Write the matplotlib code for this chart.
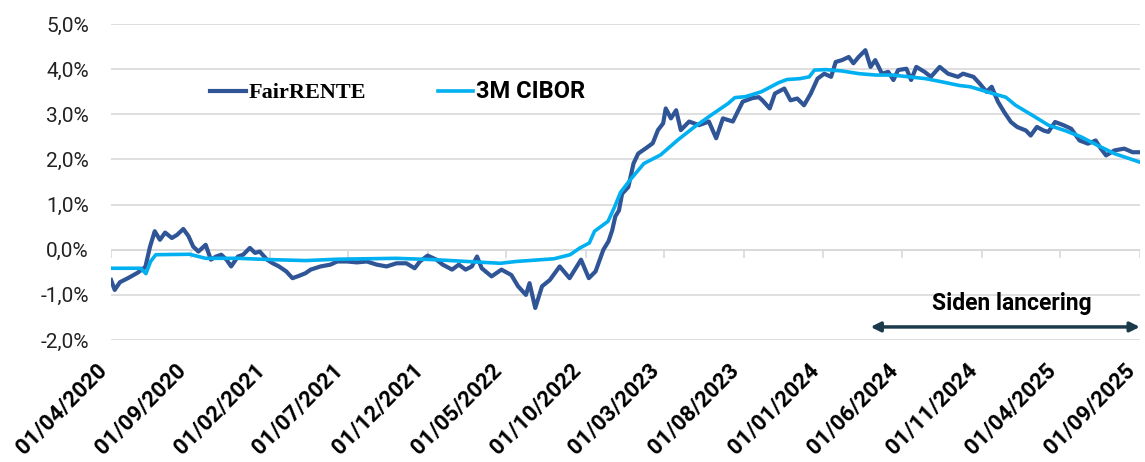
import pandas as pd
import numpy as np
import matplotlib.pyplot as plt
import matplotlib.dates as mdates
from matplotlib.ticker import FuncFormatter, FixedLocator

# FairRENTE (%)
fair_dates = [
    "2020-04-01", "2020-04-08", "2020-04-18", "2020-05-05", "2020-05-22", "2020-06-06",
    "2020-06-15", "2020-06-24", "2020-07-04", "2020-07-14", "2020-07-27", "2020-08-06",
    "2020-08-18", "2020-08-28", "2020-09-06", "2020-09-16", "2020-09-30", "2020-10-10",
    "2020-10-20", "2020-10-30", "2020-11-09", "2020-11-18", "2020-12-01", "2020-12-11",
    "2020-12-24", "2021-01-03", "2021-01-12", "2021-01-26", "2021-02-06", "2021-02-18",
    "2021-03-04", "2021-03-16", "2021-03-28", "2021-04-10", "2021-04-20", "2021-05-09",
    "2021-05-28", "2021-06-10", "2021-06-29", "2021-07-18", "2021-08-06", "2021-08-25",
    "2021-09-13", "2021-10-02", "2021-10-21", "2021-11-06", "2021-11-16", "2021-12-01",
    "2021-12-18", "2021-12-30", "2022-01-17", "2022-01-30", "2022-02-12", "2022-02-24",
    "2022-03-06", "2022-03-15", "2022-04-03", "2022-04-22", "2022-05-11", "2022-05-24",
    "2022-06-08", "2022-06-15", "2022-06-26", "2022-07-09", "2022-07-24", "2022-08-12",
    "2022-08-31", "2022-09-22", "2022-10-07", "2022-10-20", "2022-11-04", "2022-11-14",
    "2022-11-21", "2022-11-27", "2022-12-04", "2022-12-10", "2022-12-22", "2023-01-01",
    "2023-01-10", "2023-01-25", "2023-02-07", "2023-02-17", "2023-02-27", "2023-03-04",
    "2023-03-14", "2023-03-24", "2023-04-02", "2023-04-18", "2023-05-07", "2023-05-26",
    "2023-06-09", "2023-06-22", "2023-07-11", "2023-07-30", "2023-08-18", "2023-08-30",
    "2023-09-06", "2023-09-20", "2023-09-30", "2023-10-18", "2023-10-30", "2023-11-12",
    "2023-11-25", "2023-12-08", "2023-12-21", "2024-01-03", "2024-01-16", "2024-01-25",
    "2024-02-06", "2024-02-19", "2024-02-28", "2024-03-09", "2024-03-22", "2024-04-01",
    "2024-04-10", "2024-04-23", "2024-05-05", "2024-05-15", "2024-05-24", "2024-06-09",
    "2024-06-18", "2024-06-28", "2024-07-14", "2024-07-26", "2024-08-12", "2024-08-28",
    "2024-09-16", "2024-09-26", "2024-10-16", "2024-10-28", "2024-11-10", "2024-11-20",
    "2024-12-02", "2024-12-14", "2024-12-27", "2025-01-08", "2025-01-25", "2025-02-03",
    "2025-02-15", "2025-02-28", "2025-03-09", "2025-03-22", "2025-04-07", "2025-04-22",
    "2025-05-08", "2025-05-24", "2025-06-08", "2025-06-18", "2025-06-28", "2025-07-14",
    "2025-08-02", "2025-08-18", "2025-09-01",
]
fair_values = [
    -0.67, -0.89, -0.72, -0.62, -0.51, -0.38,
    0.07, 0.41, 0.22, 0.38, 0.26, 0.33,
    0.46, 0.30, 0.07, -0.04, 0.11, -0.22,
    -0.15, -0.11, -0.22, -0.37, -0.15, -0.11,
    0.04, -0.07, -0.04, -0.22, -0.30, -0.37,
    -0.48, -0.63, -0.58, -0.52, -0.44, -0.37,
    -0.33, -0.26, -0.26, -0.28, -0.26, -0.33,
    -0.37, -0.30, -0.30, -0.41, -0.26, -0.13,
    -0.22, -0.33, -0.44, -0.33, -0.44, -0.37,
    -0.15, -0.41, -0.59, -0.44, -0.56, -0.81,
    -1.00, -0.74, -1.29, -0.81, -0.67, -0.37,
    -0.63, -0.22, -0.63, -0.48, 0.00, 0.19,
    0.43, 0.74, 0.87, 1.24, 1.39, 1.91,
    2.13, 2.25, 2.36, 2.65, 2.80, 3.13,
    2.91, 3.09, 2.65, 2.84, 2.76, 2.84,
    2.47, 2.91, 2.84, 3.28, 3.36, 3.38,
    3.31, 3.13, 3.46, 3.57, 3.31, 3.35,
    3.20, 3.46, 3.79, 3.90, 3.83, 4.16,
    4.20, 4.27, 4.13, 4.27, 4.42, 4.05,
    4.20, 3.90, 3.94, 3.76, 3.98, 4.01,
    3.76, 4.05, 3.94, 3.83, 4.05, 3.90,
    3.83, 3.90, 3.83, 3.68, 3.50, 3.61,
    3.28, 3.05, 2.83, 2.72, 2.64, 2.53,
    2.72, 2.64, 2.61, 2.83, 2.76, 2.68,
    2.42, 2.35, 2.42, 2.24, 2.09, 2.20,
    2.24, 2.16, 2.16,
]

# 3M CIBOR (%)
cibor_dates = [
    "2020-04-01", "2020-05-28", "2020-06-07", "2020-06-16", "2020-06-26", "2020-08-30",
    "2020-09-30", "2020-12-01", "2021-02-06", "2021-04-10", "2021-06-10", "2021-10-01",
    "2021-12-15", "2022-02-15", "2022-04-20", "2022-05-20", "2022-08-01", "2022-09-01",
    "2022-09-20", "2022-10-08", "2022-10-18", "2022-11-13", "2022-11-26", "2022-12-07",
    "2022-12-25", "2023-01-21", "2023-02-22", "2023-03-27", "2023-04-28", "2023-05-30",
    "2023-07-02", "2023-07-15", "2023-08-04", "2023-09-04", "2023-10-07", "2023-10-23",
    "2023-11-17", "2023-12-05", "2023-12-15", "2024-01-06", "2024-02-06", "2024-03-10",
    "2024-04-11", "2024-05-12", "2024-06-14", "2024-07-16", "2024-08-16", "2024-09-18",
    "2024-10-10", "2024-11-02", "2024-11-22", "2024-12-17", "2025-01-05", "2025-02-06",
    "2025-03-09", "2025-04-10", "2025-05-11", "2025-06-12", "2025-07-14", "2025-08-14",
    "2025-09-01",
]
cibor_values = [
    -0.41, -0.41, -0.53, -0.26, -0.11, -0.10,
    -0.19, -0.19, -0.22, -0.24, -0.21, -0.19,
    -0.22, -0.26, -0.30, -0.26, -0.20, -0.11,
    0.04, 0.15, 0.41, 0.63, 0.96, 1.27,
    1.54, 1.91, 2.10, 2.43, 2.72, 2.98,
    3.24, 3.37, 3.39, 3.50, 3.70, 3.77,
    3.79, 3.83, 3.98, 3.99, 3.96, 3.90,
    3.87, 3.87, 3.83, 3.79, 3.72, 3.64,
    3.61, 3.53, 3.46, 3.38, 3.20, 2.98,
    2.76, 2.64, 2.50, 2.31, 2.13, 2.01,
    1.94,
]

tick_dates = ["2020-04-01", "2020-09-01", "2021-02-01", "2021-07-01", "2021-12-01",
              "2022-05-01", "2022-10-01", "2023-03-01", "2023-08-01", "2024-01-01",
              "2024-06-01", "2024-11-01", "2025-04-01", "2025-09-01"]
y_ticks = [-2, -1, 0, 1, 2, 3, 4, 5]
launch_start = "2024-04-01"
launch_end = "2025-09-01"

fair_x = pd.to_datetime(fair_dates)
cibor_x = pd.to_datetime(cibor_dates)
ticks = mdates.date2num(pd.to_datetime(tick_dates))

fig = plt.figure(figsize=(11.45, 4.62), dpi=100)
ax = fig.add_axes([0.097, 0.264, 0.8985, 0.684])

ax.plot(fair_x, fair_values, color="#2F5597", lw=3.0, label="FairRENTE", zorder=3)
ax.plot(cibor_x, cibor_values, color="#00B0F0", lw=2.6, label="3M CIBOR", zorder=4)

ax.set_xlim(ticks[0], ticks[-1])
ax.set_ylim(-2, 5)
ax.yaxis.set_major_locator(FixedLocator(y_ticks))
ax.yaxis.set_major_formatter(FuncFormatter(lambda v, p: f"{v:.1f}%".replace(".", ",")))
ax.grid(axis="y", color="#D9D9D9", lw=1.2)
ax.set_axisbelow(True)
for s in ax.spines.values():
    s.set_visible(False)

# x axis crosses at 0 with small tick marks
ax.axhline(0, color="#D9D9D9", lw=1.2, zorder=1)
ax.vlines(ticks, -0.18, 0, color="#D9D9D9", lw=1.2, zorder=1)

ax.set_xticks(ticks)
ax.set_xticklabels([pd.Timestamp(d).strftime("%d/%m/%Y") for d in tick_dates],
                   rotation=45, ha="right", fontsize=16, fontweight="bold",
                   family="Roboto")
ax.tick_params(axis="x", length=0, pad=14)
ax.tick_params(axis="y", length=0, pad=16, labelsize=15, labelcolor="#222222")
for lbl in ax.get_yticklabels():
    lbl.set_family("Roboto")

leg = ax.legend(loc="center left", bbox_to_anchor=(210 / 1145, 1 - 92 / 462),
                bbox_transform=fig.transFigure, ncol=2, frameon=False,
                fontsize=16, handlelength=1.6, handletextpad=0.15,
                columnspacing=3.2, borderpad=0, borderaxespad=0)
t1, t2 = leg.get_texts()
t1.set_family("Liberation Serif")
t1.set_fontweight("bold")
t2.set_family("Roboto")
t2.set_fontweight("bold")
t2.set_fontsize(17)

# "Siden lancering" arrow
ax.annotate("", xy=(pd.Timestamp(launch_end), -1.71), xytext=(pd.Timestamp(launch_start), -1.71),
            arrowprops=dict(arrowstyle="<|-|>", color="#1B3A4B", lw=2.5,
                            mutation_scale=14, shrinkA=0, shrinkB=0))
ax.text(pd.Timestamp("2024-12-28"), -1.18, "Siden lancering", ha="center", va="center",
        fontsize=16.5, fontweight="bold", family="Roboto", color="black")

fig.savefig("out.png", dpi=100)
